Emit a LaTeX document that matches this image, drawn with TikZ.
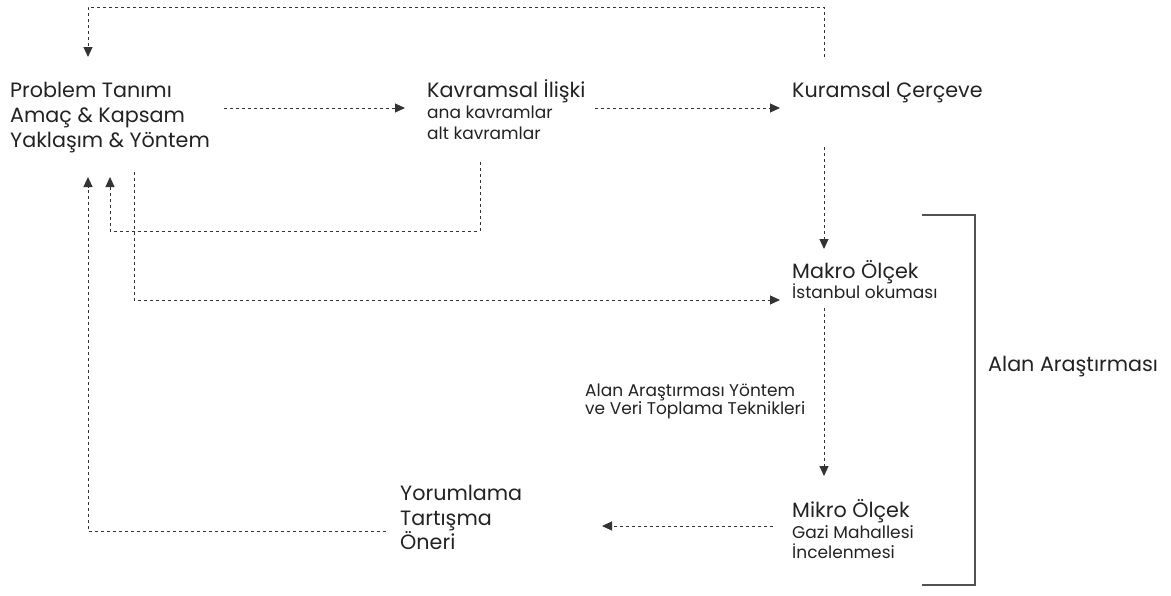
\documentclass[tikz,border=0pt]{standalone}
\usepackage{fontspec}
\setmainfont{Poppins}
\usetikzlibrary{arrows.meta,positioning}
\definecolor{ink}{HTML}{222222}
\definecolor{wire}{HTML}{333333}
\tikzset{
  big/.style={font=\fontsize{20.7}{25}\selectfont,anchor=base west,inner sep=0pt,text=ink},
  small/.style={font=\fontsize{17}{20}\selectfont,anchor=base west,inner sep=0pt,text=ink},
  flow/.style={draw=wire,line width=1pt,dash pattern=on 3pt off 3pt,-{Triangle[length=10pt,width=9pt]}},
  bracket/.style={draw=wire!85,line width=1.5pt}
}
\begin{document}
\begin{tikzpicture}[x=1pt,y=-1pt]
\useasboundingbox (0,0) rectangle (1171,595);
%problem
\node[big] (problem) at (10,97) {Problem Tanımı};
\node[big] (amac) at (10,122) {Amaç \& Kapsam};
\node[big] (yaklasim) at (10,147) {Yaklaşım \& Yöntem};
%kavramsal iliski
\node[big] (kavram) at (427,97) {Kavramsal İlişki};
\node[small] (anakavram) at (427,118) {ana kavramlar};
\node[small] (altkavram) at (427,139) {alt kavramlar};
%kuramsal cerceve
\node[big] (kuram) at (792,97) {Kuramsal Çerçeve};
%makro
\node[big] (makro) at (792,278) {Makro Ölçek};
\node[small] (istanbul) at (792,298) {İstanbul okuması};
%mikro
\node[big] (mikro) at (792,517) {Mikro Ölçek};
\node[small] (gazi) at (792,538) {Gazi Mahallesi};
\node[small] (incele) at (792,558) {İncelenmesi};
%yorumlama
\node[big] (yorum) at (400,500) {Yorumlama};
\node[big] (tartisma) at (400,525) {Tartışma};
\node[big] (oneri) at (400,549) {Öneri};
%method label
\node[small] (yontem1) at (585,396) {Alan Araştırması Yöntem};
\node[small] (yontem2) at (585,414) {ve Veri Toplama Teknikleri};
%alan arastirmasi
\node[big] (alan) at (988,371) {Alan Araştırması};

%connector ends
\coordinate (prob-top) at (88,57);
\coordinate (prob-in1) at (88,177);
\coordinate (prob-in2) at (110,177);
\coordinate (prob-out) at (134,172);
\coordinate (prob-right) at (224,108);
\coordinate (kavram-in) at (405,108);
\coordinate (kavram-out) at (595,108);
\coordinate (kavram-down) at (480,162);
\coordinate (kuram-in) at (780,108);
\coordinate (kuram-top) at (824,57);
\coordinate (kuram-down) at (824,147);
\coordinate (makro-top) at (824,249);
\coordinate (makro-in) at (780,300);
\coordinate (makro-down) at (824,308);
\coordinate (mikro-top) at (824,476);
\coordinate (mikro-out) at (773,526);
\coordinate (yorum-in) at (602,526);
\coordinate (yorum-out) at (386,531);

%arrows
\draw[flow] (kuram-top) -- ++(0,-50) -| (prob-top);
\draw[flow] (prob-right) -- (kavram-in);
\draw[flow] (kavram-out) -- (kuram-in);
\draw[flow] (kuram-down) -- (makro-top);
\draw[flow] (kavram-down) -- ++(0,69) -| (prob-in2);
\draw[flow] (prob-out) |- (makro-in);
\draw[flow] (makro-down) -- (mikro-top);
\draw[flow] (mikro-out) -- (yorum-in);
\draw[flow] (yorum-out) -| (prob-in1);

%bracket
\draw[bracket] (922,215) -- (975,215) -- (975,585) -- (922,585);
\end{tikzpicture}
\end{document}
